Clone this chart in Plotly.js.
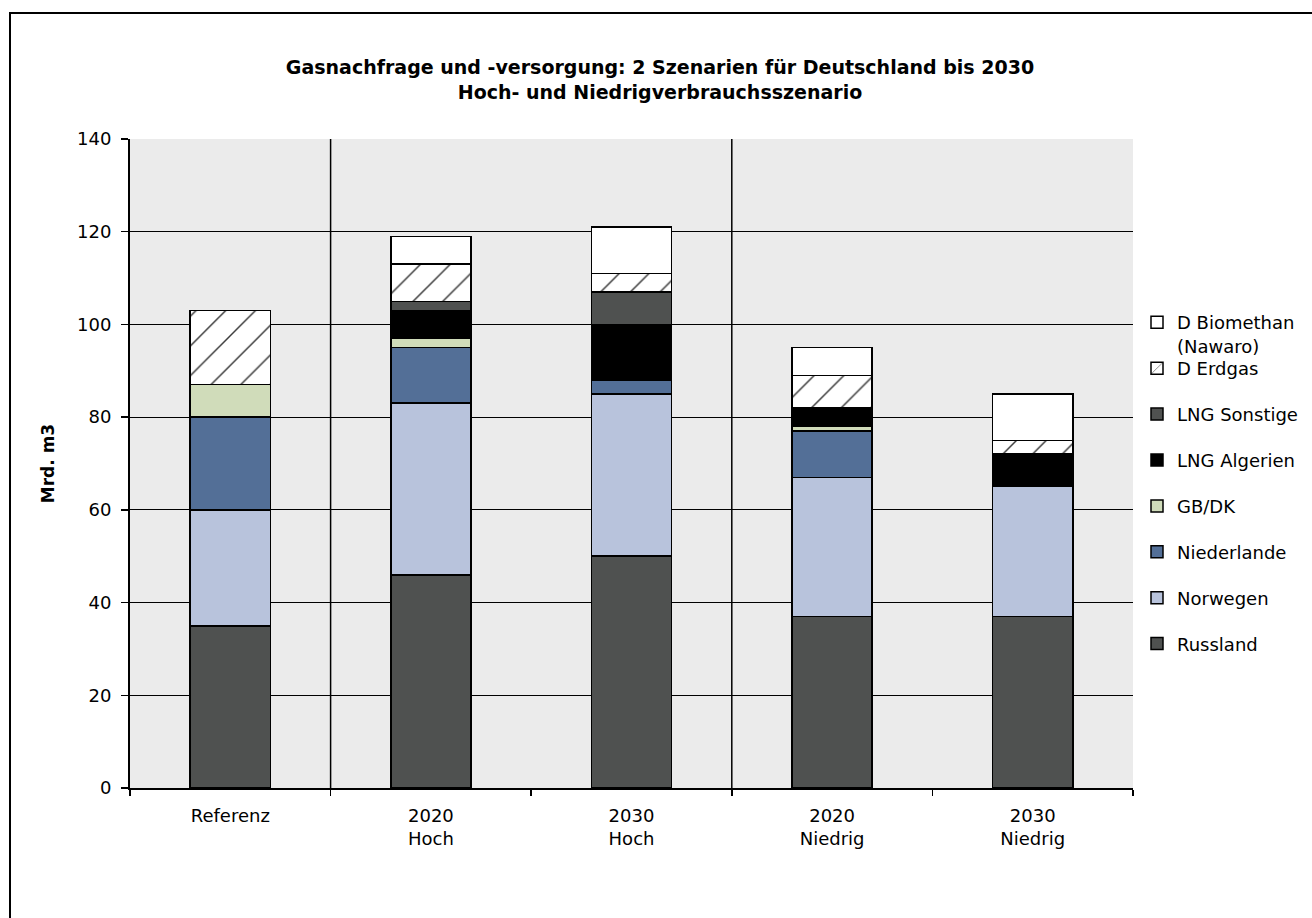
<!DOCTYPE html>
<html>
<head>
<meta charset="utf-8">
<script src="https://cdn.plot.ly/plotly-3.0.1.min.js"></script>
<style>
  html, body { margin: 0; padding: 0; background: #ffffff; }
  #chart { width: 1312px; height: 918px; }
</style>
</head>
<body>
<div id="chart"></div>
<script>
// Szenarien (x-Achse)
const categories = ["Referenz", "2020<br>Hoch", "2030<br>Hoch", "2020<br>Niedrig", "2030<br>Niedrig"];

// Gasaufkommen nach Herkunft, Mrd. m3
const russland    = [35, 46, 50, 37, 37];
const norwegen    = [25, 37, 35, 30, 28];
const niederlande = [20, 12, 3, 10, 0];
const gbDk        = [7, 2, 0, 1, 0];
const lngAlgerien = [0, 6, 12, 4, 7];
const lngSonstige = [0, 2, 7, 0, 0];
const dErdgas     = [16, 8, 4, 7, 3];
const dBiomethan  = [0, 6, 10, 6, 10];

const yTicks = [0, 20, 40, 60, 80, 100, 120, 140];

const FONT = "DejaVu Sans, Verdana, sans-serif";
const outline = { color: "#000000", width: 1.5 };

function series(name, values, color, legendId, rank, pattern) {
  const marker = { color: color, line: outline };
  if (pattern) marker.pattern = pattern;
  return {
    type: "bar",
    name: name,
    x: categories,
    y: values,
    marker: marker,
    legend: legendId,
    legendgroup: name,
    legendrank: rank,
    hoverinfo: "name+y"
  };
}

const traces = [
  series("Russland", russland, "#4f5150", "legend2", 7),
  series("Norwegen", norwegen, "#b8c3dc", "legend2", 6),
  series("Niederlande", niederlande, "#536f97", "legend2", 5),
  series("GB/DK", gbDk, "#d0dcba", "legend2", 4),
  series("LNG Algerien", lngAlgerien, "#000000", "legend2", 3),
  series("LNG Sonstige", lngSonstige, "#4f5150", "legend2", 2),
  series("D Erdgas", dErdgas, "#ffffff", "legend2", 1,
         { shape: "/", size: 21, solidity: 0.07, fgcolor: "#3a3a3a", bgcolor: "#ffffff", fillmode: "replace" }),
  series("D Biomethan<br>(Nawaro)", dBiomethan, "#ffffff", "legend", 0)
];

// plot area in pixels: x 130..1133, y 139..788
const L = 130, R = 1133, T = 139, B = 788;
const px = v => (v - L) / (R - L);
const py = v => (B - v) / (B - T);

const legendFont = { family: FONT, size: 18, color: "#000000" };

const layout = {
  width: 1312,
  height: 918,
  margin: { l: L, r: 1312 - R, t: T, b: 918 - B, pad: 0, autoexpand: false },
  paper_bgcolor: "#ffffff",
  plot_bgcolor: "#ebebeb",
  barmode: "stack",
  bargap: 0.6,
  showlegend: true,
  font: { family: FONT, size: 18, color: "#000000" },
  title: {
    text: "<b>Gasnachfrage und -versorgung: 2 Szenarien für Deutschland bis 2030</b><br><b>Hoch- und Niedrigverbrauchsszenario</b>",
    font: { family: FONT, size: 19, color: "#000000" },
    x: 660 / 1312,
    xref: "container",
    xanchor: "center",
    y: 1 - 74 / 918,
    yref: "container",
    yanchor: "top"
  },
  xaxis: {
    type: "category",
    tickson: "boundaries",
    ticks: "outside",
    ticklen: 6,
    tickwidth: 1.5,
    tickcolor: "#000000",
    ticklabelstandoff: 10,
    showgrid: false,
    showline: true,
    linecolor: "#000000",
    linewidth: 2,
    tickfont: { family: FONT, size: 18 },
    fixedrange: true
  },
  yaxis: {
    range: [0, 140],
    tickvals: yTicks,
    ticks: "outside",
    ticklen: 7,
    tickwidth: 1.5,
    tickcolor: "#000000",
    ticklabelstandoff: 6,
    showgrid: true,
    gridcolor: "#000000",
    gridwidth: 1.2,
    showline: true,
    linecolor: "#000000",
    linewidth: 2,
    zeroline: false,
    tickfont: { family: FONT, size: 18 },
    title: { text: "<b>Mrd. m3</b>", font: { family: FONT, size: 17 }, standoff: 18 },
    fixedrange: true
  },
  legend: {
    x: px(1137), xanchor: "left",
    y: py(304), yanchor: "top",
    valign: "top",
    font: legendFont,
    bgcolor: "rgba(0,0,0,0)",
    borderwidth: 0
  },
  legend2: {
    x: px(1137), xanchor: "left",
    y: py(350), yanchor: "top",
    traceorder: "grouped",
    tracegroupgap: 19.5,
    font: legendFont,
    bgcolor: "rgba(0,0,0,0)",
    borderwidth: 0
  },
  shapes: [
    // Trennlinien zwischen Referenz, Hoch- und Niedrigszenario
    { type: "line", xref: "x", yref: "paper", x0: 0.5, x1: 0.5, y0: 0, y1: 1,
      line: { color: "#000000", width: 1.5 } },
    { type: "line", xref: "x", yref: "paper", x0: 2.5, x1: 2.5, y0: 0, y1: 1,
      line: { color: "#000000", width: 1.5 } },
    // Rahmen um die Grafik
    { type: "rect", xref: "paper", yref: "paper", layer: "below",
      x0: px(10), x1: px(1340), y0: py(940), y1: py(13),
      line: { color: "#000000", width: 2 }, fillcolor: "rgba(0,0,0,0)" }
  ]
};

Plotly.newPlot("chart", traces, layout, { displayModeBar: false, staticPlot: true });
</script>
</body>
</html>
